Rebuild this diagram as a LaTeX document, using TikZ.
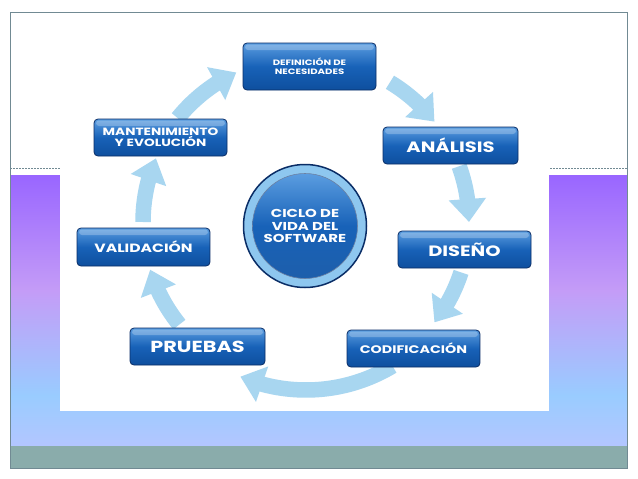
\documentclass[tikz,border=0pt]{standalone}
\usepackage{fontspec}
\setmainfont{Poppins}[FakeStretch=1.3]
\usetikzlibrary{arrows.meta,bending}
\definecolor{marco}{HTML}{718A93}
\definecolor{morado}{HTML}{9966FF}
\definecolor{lavanda}{HTML}{C49CF7}
\definecolor{celeste}{HTML}{99CCFF}
\definecolor{pervinca}{HTML}{B3C6FF}
\definecolor{franja}{HTML}{8AACAB}
\definecolor{azulosc}{HTML}{0A2D66}
\definecolor{azulclaro}{HTML}{5B9DE0}
\definecolor{azulmedio}{HTML}{1862B8}
\definecolor{azulfondo}{HTML}{0E4F9E}
\definecolor{anillo}{HTML}{8EC7EF}
\definecolor{flechaazul}{HTML}{A8D6F0}
\tikzset{
  etapa/.style={draw=azulosc, line width=0.8pt, rounded corners=4pt,
    minimum width=133pt, minimum height=37pt, inner sep=2pt,
    top color=azulclaro, bottom color=azulfondo, middle color=azulmedio,
    text=white, align=center,
    path picture={\fill[white, opacity=0.25, rounded corners=3pt]
      ([xshift=2pt, yshift=-1.5pt]path picture bounding box.north west) rectangle
      ([xshift=-2pt, yshift=-7pt]path picture bounding box.north east);}},
  flecha/.style={line width=15.5pt, draw=flechaazul,
    -{Triangle[length=23pt,width=36pt]}},
}
\newcommand{\letra}[1]{\bfseries\fontsize{#1}{#1}\selectfont}
\begin{document}
\begin{tikzpicture}[x=1pt, y=-1pt]
    \useasboundingbox (0,0) rectangle (638,479);
    % Fondo de la diapositiva
    \fill[white] (0,0) rectangle (638,479);
    \shade[top color=morado, bottom color=lavanda] (11,175) rectangle (627,291);
    \shade[top color=lavanda, bottom color=celeste] (11,290) rectangle (627,396);
    \shade[top color=celeste, bottom color=pervinca] (11,395) rectangle (627,446);
    \fill[franja] (11,446) rectangle (627,468);
    \draw[marco, line width=0.6pt, dash pattern=on 2pt off 1pt] (10,168) -- (627,168);
    \draw[marco, line width=0.8pt] (10,12) rectangle (627,468);
    \fill[white] (60,20) rectangle (549,411);

    % Flechas del ciclo
    \coordinate (C) at (306,222);
    \draw[flecha] ([shift={(-59:163)}]C) arc[start angle=-59, end angle=-38, radius=163];
    \draw[flecha] ([shift={(-20:163)}]C) arc[start angle=-20, end angle=0, radius=163];
    \draw[flecha] ([shift={(18:163)}]C) arc[start angle=18, end angle=38, radius=163];
    \draw[flecha] ([shift={(59:168)}]C) arc[start angle=59, end angle=113, radius=168];
    \draw[flecha] ([shift={(141:163)}]C) arc[start angle=141, end angle=163, radius=163];
    \draw[flecha] ([shift={(180:163)}]C) arc[start angle=180, end angle=203, radius=163];
    \draw[flecha] ([shift={(219:165)}]C) arc[start angle=219, end angle=245, radius=165];

    % Etapas
    \node[etapa, minimum height=47pt, font=\letra{7.8}] (defin) at (309.5,66.5) {DEFINICIÓN DE\\[1pt]NECESIDADES};
    \node[etapa, minimum width=135pt, font=\letra{15}] (anal) at (450.5,145.5) {ANÁLISIS};
    \node[etapa, font=\letra{15}] (diseno) at (464.5,249.5) {DISEÑO};
    \node[etapa, font=\letra{11}] (codif) at (413.5,348.5) {CODIFICACIÓN};
    \node[etapa, minimum width=135pt, font=\letra{16}] (pruebas) at (197.5,346.5) {PRUEBAS};
    \node[etapa, minimum height=38pt, font=\letra{12}] (valid) at (143.5,247) {VALIDACIÓN};
    \node[etapa, font=\letra{10.5}] (mant) at (160.5,137.5) {MANTENIMIENTO\\[1pt]Y EVOLUCIÓN};

    % Centro
    \node[circle, draw=azulosc, line width=1.5pt, fill=anillo, minimum size=123pt] (aro) at (305,226) {};
    \node[circle, draw=azulosc!60, line width=0.6pt, top color=azulclaro, bottom color=azulfondo!80!azulclaro,
      middle color=azulmedio, minimum size=105pt, text=white, align=center, font=\letra{11.5}] (ciclo) at (aro) {CICLO DE\\[1pt]VIDA DEL\\[1pt]SOFTWARE};
\end{tikzpicture}
\end{document}
